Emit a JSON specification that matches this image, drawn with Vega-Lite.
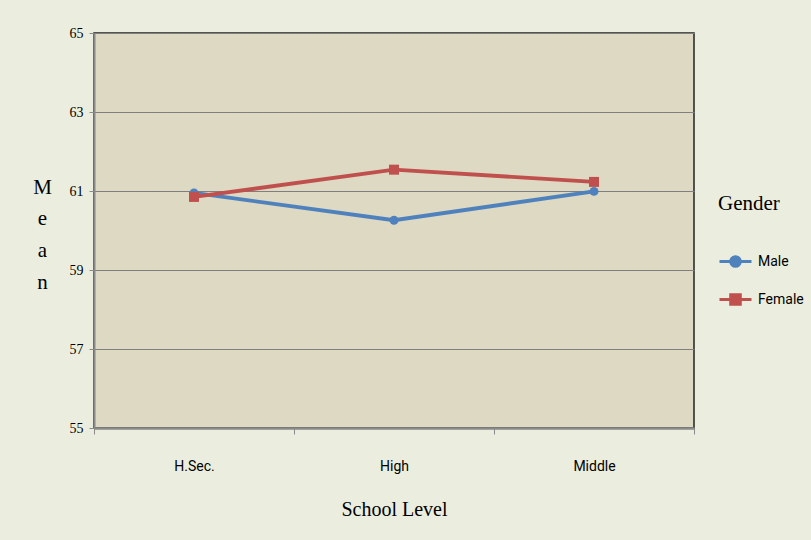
{
  "$schema": "https://vega.github.io/schema/vega-lite/v6.json",
  "width": 600,
  "height": 395,
  "autosize": {"type": "none"},
  "padding": {"left": 94, "top": 33, "right": 117, "bottom": 112},
  "background": "#EBEEDF",
  "config": {
    "view": {"fill": "#DDD9C3", "stroke": "#222222", "strokeWidth": 1.5},
    "font": "Liberation Serif"
  },
  "data": {
    "values": [
      {"level": "H.Sec.", "gender": "Male", "mean": 60.95},
      {"level": "High", "gender": "Male", "mean": 60.26},
      {"level": "Middle", "gender": "Male", "mean": 60.99},
      {"level": "H.Sec.", "gender": "Female", "mean": 60.85},
      {"level": "High", "gender": "Female", "mean": 61.54},
      {"level": "Middle", "gender": "Female", "mean": 61.23}
    ]
  },
  "encoding": {
    "x": {
      "field": "level",
      "type": "nominal",
      "sort": ["H.Sec.", "High", "Middle"],
      "scale": {"type": "band", "paddingInner": 0, "paddingOuter": 0},
      "axis": {
        "title": "School Level",
        "titleFont": "Liberation Serif",
        "titleFontSize": 20,
        "titleFontWeight": "normal",
        "titleColor": "#000000",
        "titlePadding": 26,
        "labelFont": "Roboto",
        "labelFontSize": 14,
        "labelColor": "#000000",
        "labelAngle": 0,
        "labelPadding": 25,
        "tickBand": "extent",
        "tickSize": 6,
        "tickColor": "#8a8a8a",
        "domainColor": "#8a8a8a",
        "domainWidth": 2.5,
        "grid": false
      }
    },
    "y": {
      "field": "mean",
      "type": "quantitative",
      "scale": {"domain": [55, 65], "zero": false, "nice": false},
      "axis": {
        "values": [55, 57, 59, 61, 63, 65],
        "grid": true,
        "gridColor": "#7f7f7f",
        "gridWidth": 1.2,
        "tickSize": 5,
        "tickColor": "#8a8a8a",
        "domainColor": "#8a8a8a",
        "domainWidth": 2,
        "labelFont": "Liberation Serif",
        "labelFontSize": 14,
        "labelColor": "#000000",
        "labelPadding": 6,
        "title": ["M", "e", "a", "n"],
        "titleAngle": 0,
        "titleFont": "Liberation Serif",
        "titleFontSize": 21,
        "titleFontWeight": "normal",
        "titleColor": "#000000",
        "titleLineHeight": 31.7,
        "titleAlign": "center",
        "titleBaseline": "middle",
        "titleX": -52,
        "titleY": 154
      }
    },
    "color": {
      "field": "gender",
      "type": "nominal",
      "scale": {"domain": ["Male", "Female"], "range": ["#4F81BD", "#C0504D"]},
      "legend": {
        "title": "Gender",
        "orient": "none",
        "legendX": 624,
        "legendY": 160,
        "titleFont": "Liberation Serif",
        "titleFontSize": 21,
        "titleFontWeight": "normal",
        "titleColor": "#000000",
        "titlePadding": 30,
        "labelFont": "Roboto",
        "labelFontSize": 14,
        "labelColor": "#000000",
        "labelOffset": 5,
        "rowPadding": 9,
        "symbolSize": 1024,
        "symbolStrokeWidth": 3,
        "symbolOpacity": 1,
        "encode": {
          "symbols": {
            "update": {
              "shape": {"signal": "datum.value === 'Male' ? 'M-1,0H1M-0.3,0A0.3,0.3 0 1,0 0.3,0A0.3,0.3 0 1,0 -0.3,0Z' : 'M-1,0H1M-0.3,-0.3H0.3V0.3H-0.3Z'"},
              "fill": {"scale": "color", "field": "value"},
              "stroke": {"scale": "color", "field": "value"},
              "strokeWidth": {"value": 3},
              "opacity": {"value": 1}
            }
          }
        }
      }
    }
  },
  "layer": [
    {"mark": {"type": "line", "strokeWidth": 3.8}},
    {
      "transform": [{"filter": "datum.gender === 'Male'"}],
      "mark": {"type": "point", "shape": "circle", "filled": true, "opacity": 1, "size": 80}
    },
    {
      "transform": [{"filter": "datum.gender === 'Female'"}],
      "mark": {"type": "point", "shape": "square", "filled": true, "opacity": 1, "size": 100}
    }
  ]
}
